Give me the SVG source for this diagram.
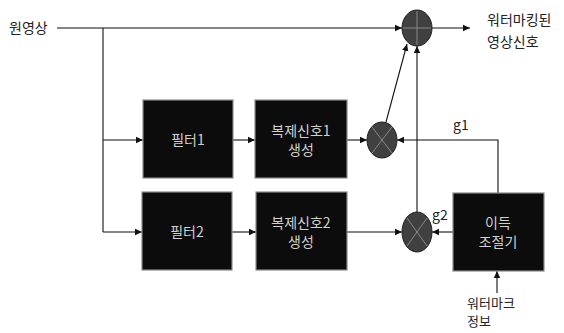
<svg xmlns="http://www.w3.org/2000/svg" width="564" height="333" viewBox="0 0 564 333">
<style>
text{font-family:"Noto Sans CJK KR","Noto Sans",sans-serif;font-size:14px;fill:#222}
.box{fill:#0c0c0c;stroke:#8a8a8a;stroke-width:1.2}
.bt{fill:#d0d0d0;text-anchor:middle}
.ln{stroke:#111;stroke-width:1.1;fill:none}
.op{fill:#404040;stroke:#222;stroke-width:1}
.mk{stroke:#888;stroke-width:1}
.sm{font-size:13px}
</style>
<defs>
<marker id="ah" markerWidth="8" markerHeight="8" refX="7" refY="4" orient="auto" markerUnits="userSpaceOnUse">
<path d="M0,0.8 L7,4 L0,7.2 Z" fill="#111"/>
</marker>
</defs>
<rect width="564" height="333" fill="#fff"/>
<g id="connectors">
<path class="ln" d="M57,28 H402" marker-end="url(#ah)"/>
<path class="ln" d="M432,28 H470" marker-end="url(#ah)"/>
<path class="ln" d="M103,28 V232"/>
<path class="ln" d="M103,140 H143" marker-end="url(#ah)"/>
<path class="ln" d="M103,232 H142" marker-end="url(#ah)"/>
<path class="ln" d="M233,140 H255" marker-end="url(#ah)"/>
<path class="ln" d="M232,232 H256" marker-end="url(#ah)"/>
<path class="ln" d="M347,140 H367" marker-end="url(#ah)"/>
<path class="ln" d="M347,232 H402" marker-end="url(#ah)"/>
<path class="ln" d="M386,122 L407,44" marker-end="url(#ah)"/>
<path class="ln" d="M417,212 V46" marker-end="url(#ah)"/>
<path class="ln" d="M498,193 V140 H397" marker-end="url(#ah)"/>
<path class="ln" d="M453,232 H432" marker-end="url(#ah)"/>
<path class="ln" d="M497,293 V271" marker-end="url(#ah)"/>
</g>
<g id="src"><text x="9" y="33">원영상</text></g>
<g id="out"><text x="487" y="25">워터마킹된</text><text x="487" y="47">영상신호</text></g>
<g id="adder">
<ellipse class="op" cx="417" cy="28" rx="15" ry="18"/>
<path class="mk" d="M403,28 H431 M417,11 V45"/>
</g>
<g id="mul1">
<ellipse class="op" cx="382" cy="140" rx="15" ry="18"/>
<path class="mk" d="M372,127 L392,153 M392,127 L372,153"/>
</g>
<g id="mul2">
<ellipse class="op" cx="417" cy="232" rx="15" ry="20"/>
<path class="mk" d="M407,218 L427,246 M427,218 L407,246"/>
</g>
<g id="filter1"><rect class="box" x="143" y="100" width="90" height="78"/><text class="bt" x="188" y="145">필터1</text></g>
<g id="gen1"><rect class="box" x="255" y="100" width="92" height="78"/><text class="bt" x="301" y="136">복제신호1</text><text class="bt" x="301" y="155">생성</text></g>
<g id="filter2"><rect class="box" x="142" y="192" width="90" height="78"/><text class="bt" x="187" y="237">필터2</text></g>
<g id="gen2"><rect class="box" x="256" y="192" width="91" height="78"/><text class="bt" x="301" y="228">복제신호2</text><text class="bt" x="301" y="247">생성</text></g>
<g id="gain"><rect class="box" x="453" y="193" width="91" height="78"/><text class="bt" x="498" y="228">이득</text><text class="bt" x="498" y="247">조절기</text></g>
<g id="labels"><text x="453" y="130">g1</text><text x="432" y="220">g2</text></g>
<g id="wm"><text class="sm" x="467" y="308">워터마크</text><text class="sm" x="467" y="326">정보</text></g>
</svg>
